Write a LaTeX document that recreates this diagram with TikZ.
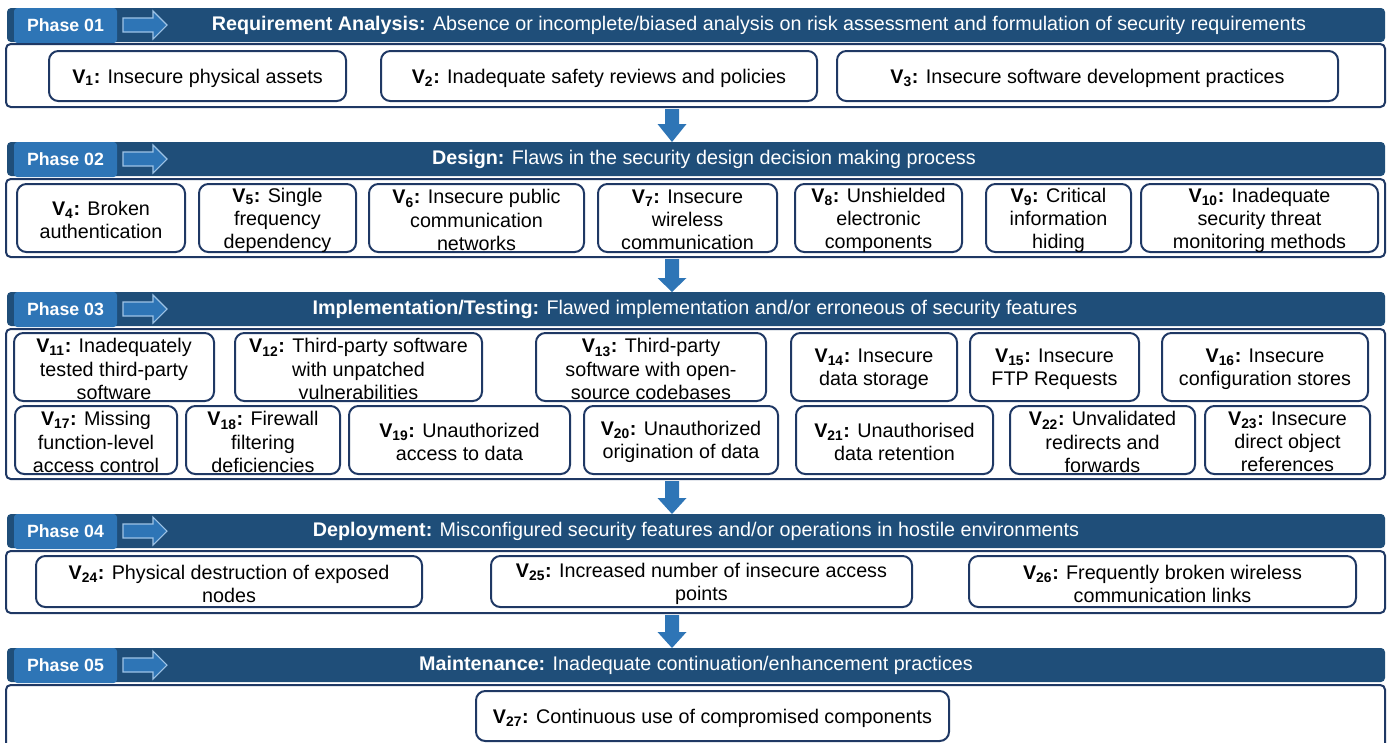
\documentclass[tikz,border=0pt]{standalone}
\usepackage{fontspec}
\setmainfont{Liberation Sans}
\definecolor{hdrblue}{HTML}{1F4E79}
\definecolor{midblue}{HTML}{2E75B6}
\definecolor{navy}{HTML}{1F3864}
\definecolor{lightblue}{HTML}{9DC3E6}
\newcommand\vv[1]{\textbf{V\textsubscript{#1}:}}
\newcommand\vfont{\fontsize{14.8}{17.3}\selectfont}
\tikzset{
  hdr/.style={fill=hdrblue, rounded corners=3pt, inner sep=0pt},
  cont/.style={draw=navy, line width=1.5pt, rounded corners=3.5pt, fill=white, inner sep=0pt},
  vb/.style={draw=navy, line width=1.5pt, rounded corners=7pt, align=center, font=\vfont, inner sep=0pt},
  vtext/.style={font=\vfont, align=center, inner sep=0pt},
  plabel/.style={fill=midblue, rounded corners=2.5pt, text=white, inner sep=0pt, font=\bfseries\fontsize{13.3}{16}\selectfont},
  htext/.style={text=white, inner sep=0pt, font=\vfont},
  darr/.style={fill=midblue},
  harr/.style={fill=midblue, draw=lightblue, line width=0.8pt},
}
\newcommand\boxnode[7]{%
  \node[#1, minimum width={(#5-#3)*0.75pt}, minimum height={(#6-#4)*0.75pt}] (#2) at ({(#3+#5)/2},{(#4+#6)/2}) {#7};}
\newcommand\vbnode[7]{%
  \node[#1, minimum width={(#5-#3)*0.75pt}, minimum height={(#6-#4)*0.75pt}] (#2) at ({(#3+#5)/2},{(#4+#6)/2}) {};
  \node[vtext] (#2t) at ([yshift=-1.5pt]#2.center) {#7};}
\newcommand\downarr[4]{% x, ytop, ybase, ytip
  \fill[darr] (#1-7,#2) -- (#1+7,#2) -- (#1+7,#3) -- (#1+14.5,#3) -- (#1,#4) -- (#1-14.5,#3) -- (#1-7,#3) -- cycle;}
\newcommand\hdrarr[1]{% header top y
  \filldraw[harr] (123,#1+10) -- (153,#1+10) -- (153,#1+3) -- (167,#1+17) -- (153,#1+31) -- (153,#1+24) -- (123,#1+24) -- cycle;}
\newcommand\phasehdr[5]{% n, top, bottom, text x, text
  \boxnode{hdr}{h#1}{7}{#2}{1385}{#3}{}
  \boxnode{plabel}{p#1}{14}{#2+5}{117}{#2+30}{Phase 0#1}
  \hdrarr{#2}
  \node[htext] (t#1) at (#4,{(#2+#3)/2}) {#5};}
\begin{document}
\begin{tikzpicture}[x=0.75pt,y=-0.75pt]
\useasboundingbox (0,0) rectangle (1390,743);
\clip (0,0) rectangle (1390,743);

% Phase 01
\phasehdr{1}{8}{42}{759}{\textbf{Requirement Analysis:} Absence or incomplete/biased analysis on risk assessment and formulation of security requirements}
\boxnode{cont}{c1}{6}{44}{1385}{107}{}
\vbnode{vb}{v1}{49}{51}{346}{101}{\vv{1} Insecure physical assets}
\vbnode{vb}{v2}{381}{51}{817}{101}{\vv{2} Inadequate safety reviews and policies}
\vbnode{vb}{v3}{837}{51}{1338}{101}{\vv{3} Insecure software development practices}
\downarr{672}{109}{124}{142}

% Phase 02
\phasehdr{2}{142}{176}{704}{\textbf{Design:} Flaws in the security design decision making process}
\boxnode{cont}{c2}{6}{179}{1385}{257}{}
\vbnode{vb}{v4}{17}{184}{185}{252}{\vv{4} Broken\\authentication}
\vbnode{vb}{v5}{199}{184}{356}{252}{\vv{5} Single\\frequency\\dependency}
\vbnode{vb}{v6}{369}{184}{584}{252}{\vv{6} Insecure public\\communication\\networks}
\vbnode{vb}{v7}{598}{184}{777}{252}{\vv{7} Insecure\\wireless\\communication}
\vbnode{vb}{v8}{795}{184}{962}{252}{\vv{8} Unshielded\\electronic\\components}
\vbnode{vb}{v9}{986}{184}{1131}{252}{\vv{9} Critical\\information\\hiding}
\vbnode{vb}{v10}{1141}{184}{1378}{252}{\vv{10} Inadequate\\security threat\\monitoring methods}
\downarr{672}{259}{278}{292}

% Phase 03
\phasehdr{3}{292}{326}{695}{\textbf{Implementation/Testing:} Flawed implementation and/or erroneous of security features}
\boxnode{cont}{c3}{6}{329}{1385}{479}{}
\vbnode{vb}{v11}{14}{333}{214}{401}{\vv{11} Inadequately\\tested third-party\\software}
\vbnode{vb}{v12}{235}{333}{482}{401}{\vv{12} Third-party software\\with unpatched\\vulnerabilities}
\vbnode{vb}{v13}{536}{333}{766}{401}{\vv{13} Third-party\\software with open-\\source codebases}
\vbnode{vb}{v14}{791}{333}{957}{401}{\vv{14} Insecure\\data storage}
\vbnode{vb}{v15}{970}{333}{1139}{401}{\vv{15} Insecure\\FTP Requests}
\vbnode{vb}{v16}{1162}{333}{1368}{401}{\vv{16} Insecure\\configuration stores}
\vbnode{vb}{v17}{15}{406}{177}{474}{\vv{17} Missing\\function-level\\access control}
\vbnode{vb}{v18}{186}{406}{340}{474}{\vv{18} Firewall\\filtering\\deficiencies}
\vbnode{vb}{v19}{349}{406}{570}{474}{\vv{19} Unauthorized\\access to data}
\vbnode{vb}{v20}{584}{406}{778}{474}{\vv{20} Unauthorized\\origination of data}
\vbnode{vb}{v21}{796}{406}{993}{474}{\vv{21} Unauthorised\\data retention}
\vbnode{vb}{v22}{1010}{406}{1195}{474}{\vv{22} Unvalidated\\redirects and\\forwards}
\vbnode{vb}{v23}{1205}{406}{1370}{474}{\vv{23} Insecure\\direct object\\references}
\downarr{672}{481}{498}{514}

% Phase 04
\phasehdr{4}{514}{548}{696}{\textbf{Deployment:} Misconfigured security features and/or operations in hostile environments}
\boxnode{cont}{c4}{6}{551}{1385}{613}{}
\vbnode{vb}{v24}{36}{556}{422}{607}{\vv{24} Physical destruction of exposed\\nodes}
\vbnode{vb}{v25}{491}{556}{912}{607}{\vv{25} Increased number of insecure access\\points}
\vbnode{vb}{v26}{969}{556}{1356}{607}{\vv{26} Frequently broken wireless\\communication links}
\downarr{672}{615}{632}{648}

% Phase 05
\phasehdr{5}{648}{682}{696}{\textbf{Maintenance:} Inadequate continuation/enhancement practices}
\boxnode{cont}{c5}{6}{685}{1385}{770}{}
\vbnode{vb}{v27}{476}{691}{949}{741}{\vv{27} Continuous use of compromised components}
\end{tikzpicture}
\end{document}
